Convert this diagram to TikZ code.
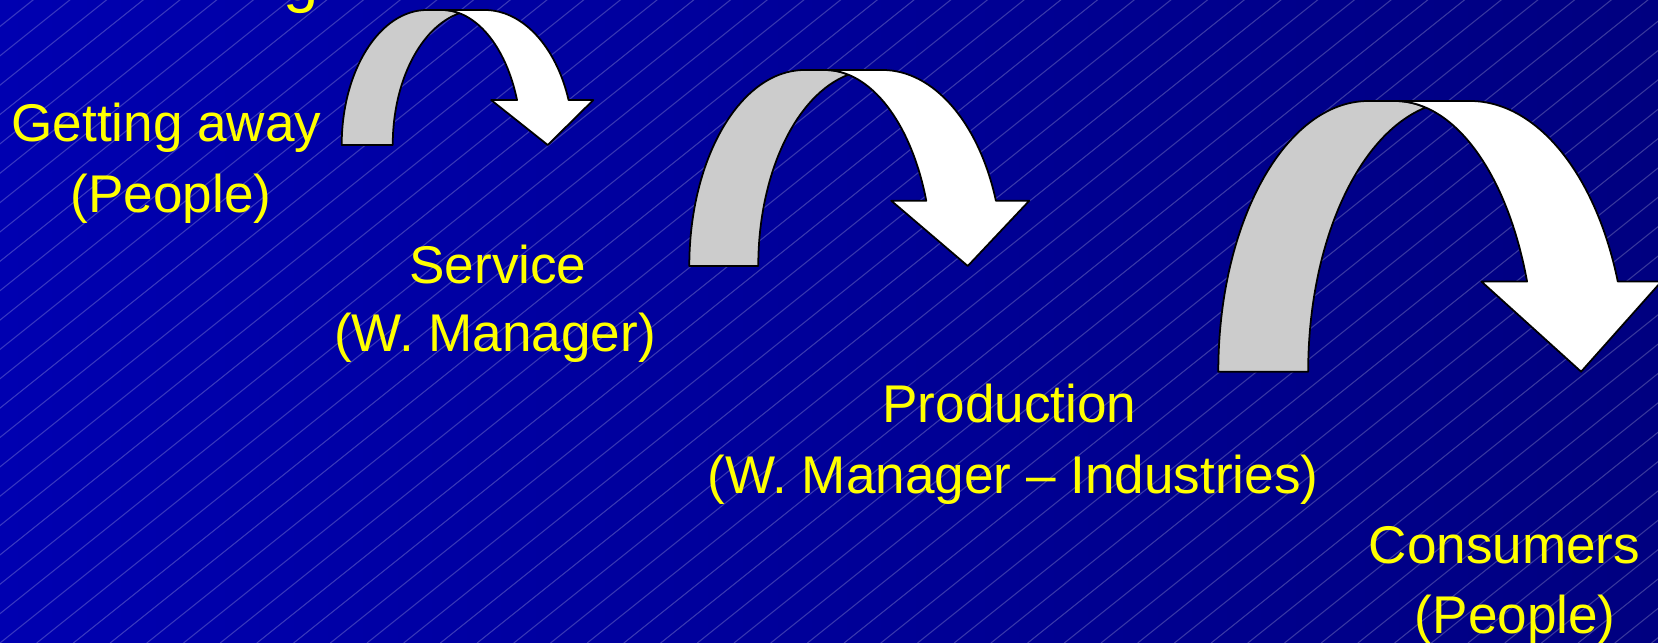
\documentclass[tikz,border=0pt]{standalone}
\usepackage{fontspec}
\setmainfont{Liberation Sans}
\definecolor{bgleft}{RGB}{0,0,176}
\definecolor{bgright}{RGB}{0,0,128}
\definecolor{labelyellow}{RGB}{255,255,0}
\definecolor{backgray}{RGB}{204,204,204}
\begin{document}
\begin{tikzpicture}[x=0.01cm, y=0.01cm,
  slidetext/.style={text=labelyellow, font=\fontsize{15.1}{18}\selectfont, inner sep=0pt, anchor=base},
  hatchline/.style={white, opacity=0.22, line width=0.3pt},
  arrowline/.style={draw=black, line width=0.5pt, line join=round},
  bendarrow/.pic={
    % back of the bend (grey)
    \draw[arrowline, fill=backgray] (0,0) arc[start angle=180, end angle=90, x radius=0.339, y radius=1]
      -- (0.399,1) arc[start angle=90, end angle=77.4, x radius=0.316, y radius=1]
      arc[start angle=102.6, end angle=180, x radius=0.339, y radius=1] -- cycle;
    % front of the bend with the head (white)
    \draw[arrowline, fill=white] (0.399,1) -- (0.568,1)
      arc[start angle=90, end angle=19.45, x radius=0.354, y radius=1]
      -- (1,0.333) -- (0.819,0) -- (0.594,0.333) -- (0.697,0.333)
      arc[start angle=19.45, end angle=90, x radius=0.316, y radius=1] -- cycle;
  }]

% Background with fine diagonal lines
\useasboundingbox (0,0) rectangle (1658,643);
\shade[left color=bgleft, right color=bgright] (0,0) rectangle (1658,643);
\begin{scope}
  \clip (0,0) rectangle (1658,643);
  \foreach \i in {-23,...,46}
    \draw[hatchline] (\i*36.7,0) -- ++(810,648);
\end{scope}

% Cut-off title letter
\node[slidetext, anchor=base west, font=\fontsize{18}{20}\selectfont] (titlecut) at (283,642) {g};

% Bent arrows, growing to the right
\begin{scope}[shift={(341.7,498)}, xscale=251.6, yscale=135]
  \pic[transform shape] {bendarrow};
\end{scope}
\begin{scope}[shift={(689.3,377)}, xscale=340, yscale=196]
  \pic[transform shape] {bendarrow};
\end{scope}
\begin{scope}[shift={(1218.3,271.3)}, xscale=443, yscale=270.7]
  \pic[transform shape] {bendarrow};
\end{scope}

% Labels of the steps
\node[slidetext] (getaway) at (166.5,501) {Getting away};
\node[slidetext] (getawaywho) at (171,430.7) {(People)};

\node[slidetext] (service) at (498,359.7) {Service};
\node[slidetext] (servicewho) at (495,291.3) {(W. Manager)};

\node[slidetext] (production) at (1009.4,220.3) {Production};
\node[slidetext] (productionwho) at (1013,149.7) {(W. Manager – Industries)};

\node[slidetext] (consumers) at (1504.5,79.7) {Consumers};
\node[slidetext] (consumerswho) at (1515.3,9) {(People)};

\end{tikzpicture}
\end{document}
